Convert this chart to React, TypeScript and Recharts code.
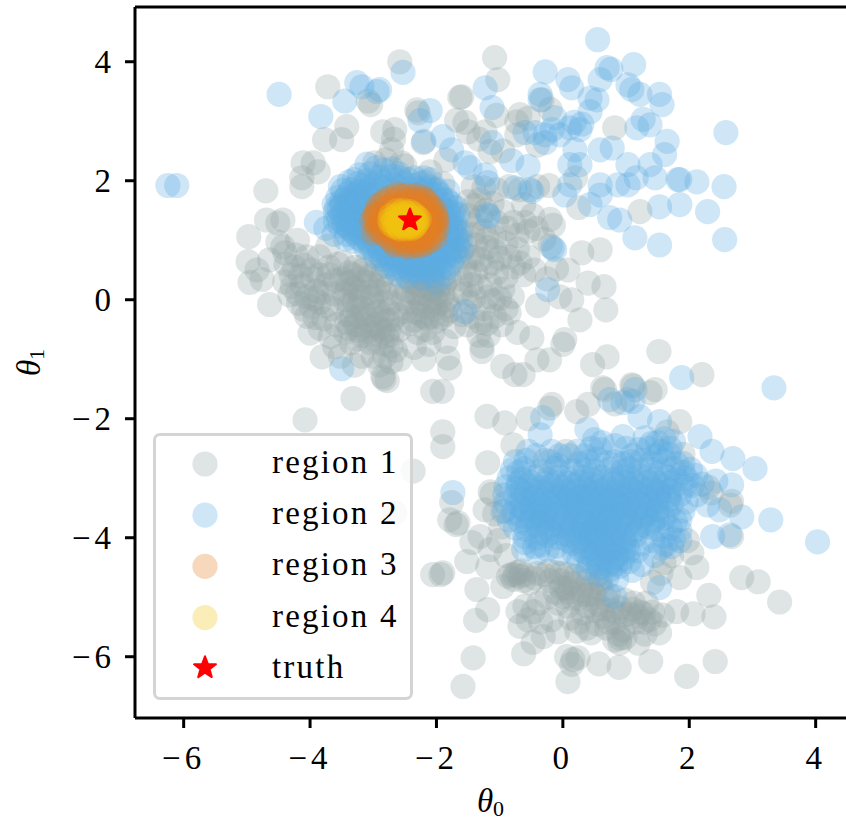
import React from "react";
import { ScatterChart, Scatter, XAxis, YAxis, ReferenceLine, Legend, Label } from "recharts";

type P = [number, number];

const xTicks = [-6, -4, -2, 0, 2, 4];
const yTicks = [-6, -4, -2, 0, 2, 4];
const legendLabels = ["region 1", "region 2", "region 3", "region 4", "truth"];
const colors = ["#95a5a6", "#5dade2", "#e67e22", "#f1c40f"];

const truth: P[] = [[-2.42, 1.34]];

const region1Upper: P[] = [
[-2.58,4],[-1.08,4.07],[-1.03,3.7],[-3.72,3.58],[-3.04,3.28],[-3.08,3.34],[-2.31,3.19],[-2.29,3.14],[-1.6,3.41],[-1.63,3.4],[-1.68,3.02],[-3.42,2.91],[-3.5,2.69],[-3.77,2.69],[-2.85,2.82],[-2.66,2.86],[-2.68,2.7],[-2.71,2.52],[-2.21,2.64],[-1.5,2.82],[-1.23,2.82],[-1.33,2.7],[-1.15,2.49],[-.68,3.11],[-.73,2.99],[-.73,2.77],[-.33,3.36],[-.55,3.05],[-4.11,2.3],[-3.95,2.3],[-3.87,2.15],[-4.13,1.9],[-4.13,2.05],[-4.7,1.83],[-4.69,1.34],[-4.43,1.34],[-4.51,1.29],[-4.97,1.06],[-4.51,.97],[-4.43,.89],[-4.4,.79],[-4.98,.64],[-4.84,.5],[-4.95,.29],[-4.76,.34],[-4.64,.67],[-4.64,-.08],[-4.4,.3],
[-4.25,.55],[-4.15,.4],[-4.05,.72],[-3.95,.35],[-3.9,.15],[-4.2,.1],[-4.05,.05],[-3.85,-.05],[-3.75,.25],[-3.62,.1],[-3.65,-.15],[-3.5,.35],[-3.45,0],[-3.4,-.25],[-3.3,.2],[-3.25,-.1],[-4.28,.22],[-4.12,.24],[-3.98,-.12],[-4.05,-.28],[-3.92,-.3],[-3.78,-.32],[-3.84,-.48],[-4,-.56],[-3.81,-.96],[-3.61,-.79],[-3.68,-.62],[-3.58,-.42],[-3.44,-.55],[-3.35,-.72],[-3.28,-.42],[-3.18,-.6],[-3.15,-.25],[-3.05,-.45],[-3.02,.05],[-2.95,-.7],[-2.92,-.2],[-2.85,-.55],[-2.8,.1],[-2.78,-.35],[-3.2,.05],[-3.12,.3],[-3,.25],[-2.88,.3],[-3.38,.45],[-3.28,.55],[-3.15,.5],[-3.42,.15],[-3.35,.3],[-2.72,-.05],[-2.7,-.6],[-2.62,-.25],[-2.65,-.85],[-2.58,-.5],[-2.82,-.95],[-3,-.95],[-3.18,-.95],[-3.3,-1.1],[-2.9,-1.1],[-2.72,-1.05],[-2.85,-1.29],[-2.83,-1.33],[-2.78,-1.36],[-2.58,-1.0],[-3.32,-1.66],[-3.52,-.95],
[-2.48,.15],[-2.45,-.05],[-2.38,.3],[-2.35,-.2],[-2.3,.1],[-2.25,.35],[-2.22,-.1],[-2.18,.2],[-2.15,-.32],[-2.1,.05],[-2.05,.3],[-2.02,-.15],[-1.98,.12],[-1.92,-.3],[-1.88,.25],[-1.85,0],[-1.8,.38],[-1.78,-.18],[-2.42,-.4],[-2.3,-.55],[-2.18,-.5],[-2.06,-.55],[-2.35,-.8],[-2.12,-.75],[-2.2,-1.0],[-2.06,-1.54],[-1.91,-1.54],[-1.79,-1.15],[-1.82,-.98],[-1.85,-.7],[-1.72,-.45],[-1.6,-.25],[-1.55,.1],[-1.62,.35],[-1.45,.25],[-1.4,.05],[-1.28,-.87],[-1.28,-.78],[-1.33,-.6],[-1.2,-.4],[-1.08,-.28],[-1.1,-.02],[-1.25,-.15],[-.95,-1.12],[-.76,-1.26],[-.63,-1.26],[-.49,-.64],[-.41,-1.01],[-.21,-1.01],[-.97,-.42],[-.9,-.15],[-.72,-.55],[-1.15,.25],[-.95,.18],[-.8,.05],
[-1.55,.55],[-1.38,.45],[-1.65,.72],[-1.48,.72],[-1.3,.68],[-1.12,.62],[-1.55,.9],[-1.38,.92],[-1.2,.88],[-1.08,.82],[-1.6,1.15],[-1.42,1.1],[-1.25,1.15],[-1.08,1.05],[-.9,.95],[-.72,.85],[-.55,.72],[-.45,.5],[-.62,.42],[-.78,.55],[-1.5,1.42],[-1.3,1.38],[-1.5,1.65],[-1.32,1.68],[-1.12,1.62],[-.95,1.48],[-.78,1.3],[-.55,1.15],[-1.42,1.9],[-1.25,1.88],[-1.05,1.85],[-.85,1.9],[-.68,1.85],[-.4,1.9],[-.22,1.92],[-.62,1.6],[-.48,1.42],[-.2,1.35],[-.15,1.25],[-.3,1.02],[-.2,.9],[-.1,.52],[-.25,.35],[-.05,.05],[-.4,-.1],
[.68,-.17],[.27,-.34],[.65,.22],[.14,0],[.08,.5],[.3,.79],[.59,.84],[.03,-.67],[.7,-.96],[.47,-1.09],[0,-.75],[1.52,-.87],[2.2,-1.26],[1.09,-1.43],[.66,-1.51],[1.46,-1.51],[.4,.28],[1.22,1.48],[.82,2.89],[.2,2.05],[.25,1.55],[-.4,2.6],[-.2,3.2],[-1.55,2.98],[-1.05,3.1],[-.95,2.5],[-2.55,2.3],[-2.1,2.15],[-1.85,2.35],[-1.9,1.95],[-2.2,1.98],[-2.8,2.35],[-2.5,2.25],[-2.98,2.3],[-4.2,1.0],[-3.72,.9],[-3.85,.72],[-3.7,.55],
];

const region1UpperDense: P[] = [
[-3.48,.62],[-3.4,.28],[-3.32,.42],[-3.22,.35],[-3.1,.62],[-3.05,.4],[-2.95,.5],[-2.85,.42],[-3.45,.1],[-3.38,-.1],[-3.3,-.02],[-3.22,.14],[-3.16,-.14],[-3.08,.12],[-3,-.08],[-2.92,.14],[-2.85,-.04],[-2.76,.22],[-3.42,-.38],[-3.34,-.3],[-3.24,-.28],[-3.1,-.34],[-3.02,-.26],[-2.96,-.42],[-2.86,-.3],[-2.76,-.18],[-3.38,-.48],[-3.22,-.52],[-3.1,-.54],[-3,-.58],[-2.9,-.48],[-2.76,-.52],[-2.7,-.34],[-3.25,-.66],[-3.05,-.72],[-2.85,-.74],[-2.72,-.78],[-2.78,-.62],
[-2.42,.32],[-2.36,.12],[-2.28,.24],[-2.26,-.04],[-2.2,.1],[-2.14,.28],[-2.12,-.12],[-2.08,.16],[-2.02,.02],[-1.96,.24],[-1.96,-.06],[-1.9,.08],[-1.86,.3],[-1.82,-.1],[-2.3,-.22],[-2.22,-.28],[-2.06,-.28],[-2,-.36],[-1.86,-.24],[-2.36,-.34],[-2.5,-.2],[-2.52,.02],[-2.56,.2],
[-4.38,.6],[-4.3,.42],[-4.22,.75],[-4.1,.58],[-3.98,.5],[-3.86,.42],[-4.32,.08],[-4.18,-.06],[-4.1,-.16],[-3.94,.02],[-3.82,.12],[-3.74,-.1],[-3.7,.42],[-3.6,.32],[-3.56,.6],
[-1.4,1.58],[-1.22,1.5],[-1.05,1.3],[-.88,1.2],[-.72,1.08],[-.6,1.3],[-.42,1.2],[-1.42,1.25],[-1.2,1.02],[-1,.7],[-.85,.72],[-.68,.62],[-1.42,.72],[-1.22,.55],[-1.05,.45],[-.9,.38],[-1.48,.42],[-1.32,.22],[-1.18,.05],[-1,.02],[-.85,-.22],[-1.62,.15],[-1.48,-.05],[-1.52,-.42],[-1.42,-.28],[-1.3,-.38],[-1.18,-.6],
];

const region1Lower: P[] = [
[-4.08,-2.02],[-2.37,-2.88],[-2.66,-3.58],[-2.06,-4.62],[-1.9,-2.22],[-1.9,-2.47],[-1.2,-1.96],[-.92,-2.07],[-1.19,-2.74],[-.79,-2.44],[-.17,-1.76],[-.21,-1.82],[.22,-1.88],[.4,-1.76],[.63,-1.48],[1.38,-1.56],[1.11,-1.45],[1.85,-2.05],[-1.15,-3.23],[-1.12,-3.27],[-1.76,-3.41],[-1.79,-3.7],[-1.66,-3.75],[-1.69,-3.78],[-1.23,-3.53],[-1.08,-3.6],[-1.44,-4.08],[-1.31,-3.98],[-1.15,-4.2],[-1.52,-4.4],[-1.19,-4.49],[-1.9,-4.59],[-1.93,-4.62],[-1.36,-4.87],[-1.19,-5.21],[-.95,-4.82],[-1.38,-5.39],[-1.42,-6.02],[-1.58,-6.5],[-.62,-5.95],[-.47,-5.76],[.08,-6.42],[.14,-6.13],[.16,-6.05],[.06,-6],[.24,-6.02],[.57,-6.12],[.89,-6.18],[1.39,-6.08],[1.96,-6.33],[2.41,-6.08],[2.39,-5.33],[2.06,-5.28],[2.31,-4.97],[2.12,-4.5],[2.83,-4.67],[3.09,-4.74],[3.43,-5.08],[1.85,-4.67],[1.8,-5.24],[2.67,-3.39],[2.65,-3.45],[2.67,-3.98],[2.04,-4.25],[1.97,-4.05],
[1.27,-5.27],[1.37,-5.38],[1.53,-5.6],[1.19,-5.77],[.9,-5.69],[.9,-5.77],[.69,-5.52],[.45,-5.6],[.22,-5.57],[-.31,-5.66],[-.68,-5.49],[-.71,-5.24],[-.47,-5.24],[-.86,-4.65],[-.68,-4.65],[-.52,-4.76],[-.76,-4.62],[-.1,-4.59],[.11,-4.76],[0,-4.99],[.58,-4.76],[.43,-5.04],[.32,-5.27],[.85,-5.27],[1.32,-5.1],
[-.82,-4.62],[-.72,-4.58],[-.6,-4.62],[-.45,-4.68],[-.3,-4.62],[-.2,-4.72],[-.05,-4.72],[.05,-4.85],[.2,-4.65],[.28,-4.88],[.4,-4.72],[.5,-4.95],[.62,-4.88],[.15,-5.02],[-.12,-4.92],[-.25,-5.0],[-.08,-5.1],[.08,-5.15],[.25,-5.02],[.38,-5.15],[.55,-5.12],[.7,-5.05],[.78,-5.22],[.98,-5.05],[1.12,-5.1],[1.05,-5.28],[.65,-5.32],[.72,-5.42],[.55,-5.45],[.38,-5.52],[.12,-5.35],[-.18,-5.38],[-.35,-5.42],[-.55,-5.38],[1.15,-5.42],[1.22,-5.25],[1.42,-5.25],[1.45,-5.45],[1.58,-5.3],[.95,-5.55],[.88,-5.62],[.82,-5.72],[.98,-5.68],[1.3,-5.62],[.25,-5.42],[-.08,-5.58],
[-.55,-2.0],[.05,-2.55],[-.28,-2.7],[.82,-1.75],[1.02,-1.68],[1.65,-2.22],[1.9,-2.6],[2.3,-3.15],[2.35,-3.25],[-.92,-3.55],[-.98,-3.82],[-1.02,-4.05],[-.9,-4.3],[1.6,-4.42],[1.72,-4.3],[1.55,-4.6],[1.42,-4.75],
[-.78,-4.7],[-.66,-4.56],[-.62,-4.72],[-.4,-4.6],[-.22,-4.56],[-.02,-4.6],[.08,-4.62],[.18,-4.78],[.34,-4.62],[.46,-4.82],[.3,-4.95],[.1,-4.92],[-.02,-4.84],[.42,-4.95],[.6,-4.7],[.72,-4.95],[.52,-5.22],[.62,-5.2],[.9,-5.18],[.98,-5.3],[.82,-5.42],[1.1,-5.2],[1.28,-5.42],[1.18,-5.32],[-.6,-5.15],[-.38,-5.1],
];

const region2Sparse: P[] = [
[-6.25,1.92],[-6.11,1.92],[-4.49,3.45],[-3.83,3.08],[-3.45,3.34],[-3.26,3.65],[-3.18,3.58],[-2.94,3.5],[-2.9,3.53],[-2.53,3.82],[-1.23,3.56],[-1.12,3.23],[-2.1,3.18],[-2.26,3.01],[-2.2,2.66],[-1.9,2.74],[-1.76,2.52],[-1.55,2.3],[-1.47,2.22],[-1.12,2.64],[-1.23,2.1],[-1.19,1.97],[-.81,2.34],[-.55,2.24],[-.76,1.88],[-.52,1.85],[-.49,1.82],[-1.19,1.43],[-1.17,1.4],[-1.55,-.2],[-3.5,-1.16],[-3.75,1.2],[-3.62,1.1],[-3.9,1.3],
[.55,4.37],[.7,3.9],[.76,3.87],[1.12,3.95],[-.28,3.83],[.08,3.7],[.14,3.56],[.59,3.7],[1.03,3.61],[1.22,3.45],[1.09,3.53],[1.53,3.45],[1.57,3.28],[.43,3.39],[.54,3.36],[.43,3.16],[-.13,3.06],[-.36,3.36],[-.36,3.45],[2.58,2.81],[1.65,2.66],[1.38,2.94],[1.17,2.89],[1.27,3.03],[.78,2.55],[.59,2.52],[.27,2.86],[.11,2.89],[.18,2.98],[.3,2.95],[-.05,2.77],[-.28,2.77],[-.6,2.81],[-.44,2.81],[-.28,2.64],[-.17,2.86],[.19,2.52],[.11,2.27],[.27,2.27],[1.61,2.44],[1.38,2.27],[1.03,2.27],[1.03,1.93],[.87,1.93],[.59,1.93],[.59,1.76],[.11,1.93],[.03,1.76],[.43,1.6],[-.13,.84],[-.24,.17],[-.16,.87],[.74,1.38],[.9,1.34],[1.14,1.04],[1.53,.92],[1.53,1.56],[1.85,1.6],[1.85,2.02],[1.82,2.02],[2.12,1.98],[2.55,1.9],[2.29,1.48],[2.56,1.01],[1.16,2.05],[1.46,2.05],
[1.88,-1.31],[3.34,-1.48],[.74,-1.68],[.95,-1.73],[1.14,-1.51],[1.11,-1.71],[1.22,-1.97],[1.53,-2.05],[2.17,-2.3],[2.36,-2.55],[2.69,-2.67],[3.04,-2.84],[2.67,-3.11],[2.83,-3.65],[3.29,-3.7],[4.03,-4.07],[2.37,-3.98],[2.64,-3.95],[2.48,-3.53],[2.29,-3.45],[-1.74,-3.24],[-.32,-1.98],[-.36,-2.27],[.38,-2.18],[.95,-2.3],[.82,-4.99],[1.53,-4.84],[2.42,-3.05],[2.2,-3.1],
];

const region2UpperCore: P[] = [
[-3.1,2.28],[-2.95,2.22],[-2.82,2.18],[-3.22,2.1],[-3.05,2.12],[-2.9,2.06],[-2.72,2.08],[-2.58,2.05],[-2.45,2.02],[-3.38,1.98],[-3.24,1.95],[-3.1,2],[-2.96,1.96],[-2.82,1.98],[-2.68,1.94],[-2.52,1.96],[-2.38,1.92],[-2.25,1.95],[-2.12,1.9],[-2,1.86],[-3.48,1.84],[-3.35,1.85],[-3.22,1.82],[-3.08,1.86],[-2.94,1.82],[-2.2,1.82],[-2.06,1.78],[-1.94,1.76],[-1.84,1.68],
[-3.56,1.72],[-3.44,1.7],[-3.32,1.74],[-3.2,1.7],[-3.08,1.72],[-1.98,1.66],[-1.86,1.6],[-3.62,1.6],[-3.5,1.58],[-3.38,1.62],[-3.26,1.58],[-3.14,1.6],[-3.02,1.56],[-1.92,1.54],[-1.8,1.48],[-3.6,1.48],[-3.46,1.46],[-3.34,1.5],[-3.22,1.46],[-3.1,1.48],[-1.88,1.42],[-1.76,1.38],[-1.7,1.3],[-3.55,1.36],[-3.42,1.34],[-3.3,1.38],[-3.18,1.34],[-3.06,1.36],[-1.84,1.28],[-1.72,1.22],[-1.64,1.14],[-3.52,1.24],[-3.4,1.22],[-3.28,1.26],[-3.16,1.22],[-3.04,1.24],[-1.82,1.14],[-1.7,1.08],[-3.42,1.1],[-3.3,1.12],[-3.18,1.1],[-3.06,1.12],[-2.94,1.06],[-1.86,1.02],[-1.74,.98],[-1.62,1.0],[-3.3,.98],[-3.18,1],[-3.06,.96],[-2.94,.94],[-2.82,.9],[-1.9,.9],[-1.78,.86],[-1.66,.88],[-3.12,.88],[-3,.84],[-2.88,.82],[-2.76,.78],[-2.64,.74],[-2.52,.72],[-2.4,.7],[-2.28,.68],[-2.16,.72],[-2.04,.76],[-1.92,.78],[-1.8,.74],[-1.7,.76],[-2.96,.72],[-2.84,.68],[-2.72,.66],[-2.6,.62],[-2.48,.6],[-2.36,.58],[-2.24,.56],[-2.12,.6],[-2,.64],[-1.88,.66],[-1.76,.62],[-2.78,.56],[-2.66,.52],[-2.54,.5],[-2.42,.48],[-2.3,.46],[-2.18,.48],[-2.06,.5],[-1.94,.52],[-1.82,.54],[-2.6,.42],[-2.46,.38],[-2.22,.36],[-2.06,.4],[-2,.28],[-1.88,.42],
[-3.52,1.9],[-3.3,2.02],[-3.58,1.55],[-3.6,1.32],[-3.44,1.02],[-2.7,2.2],[-2.35,2.05],[-2.1,2.02],[-2.2,2.05],[-1.82,1.82],[-1.7,1.55],[-1.66,1.44],[-1.6,.82],[-2.6,2.12],
[-2.8,1.7],[-2.3,1.7],[-2.95,1.5],[-2,1.5],[-2.95,1.15],[-2,1.15],[-2.75,.95],[-2.2,.9],
[-3.15,1.92],[-3.02,1.9],[-2.88,1.9],[-2.74,1.86],[-2.6,1.88],[-2.45,1.86],[-2.3,1.86],[-2.16,1.86],[-2.02,1.84],[-3.4,1.78],[-3.26,1.78],[-3.12,1.78],[-2.98,1.76],[-3.5,1.66],[-3.36,1.66],[-3.22,1.64],[-3.08,1.64],[-1.9,1.68],[-1.78,1.62],[-3.54,1.52],[-3.4,1.54],[-3.28,1.52],[-3.14,1.54],[-1.86,1.5],[-1.74,1.46],[-3.5,1.42],[-3.38,1.42],[-3.26,1.4],[-3.12,1.42],[-1.8,1.34],[-1.78,1.22],[-3.46,1.28],[-3.34,1.3],[-3.22,1.28],[-3.1,1.3],[-3.36,1.18],[-3.24,1.16],[-3.12,1.18],[-1.76,1.12],[-3.24,1.04],[-3.12,1.04],[-3,1.02],[-1.8,1.06],[-1.68,1.02],[-3.05,.9],[-2.92,.88],[-2.78,.82],[-2.66,.8],[-2.54,.78],[-2.42,.76],[-2.3,.76],[-2.18,.78],[-2.06,.82],[-1.94,.84],[-1.82,.8],[-1.72,.82],[-2.88,.74],[-2.76,.72],[-2.62,.68],[-2.5,.66],[-2.38,.64],[-2.26,.62],[-2.14,.66],[-2.02,.7],[-1.9,.72],[-2.7,.6],[-2.56,.56],[-2.44,.54],[-2.32,.52],[-2.2,.52],[-2.08,.56],[-1.96,.58],
];

const region2LowerCore: P[] = [
[.5,-2.35],[1.3,-2.32],[1.5,-2.4],[1.75,-2.38],[1.4,-2.42],[1.6,-2.34],[.62,-2.4],
[-.55,-2.55],[-.42,-2.62],[.45,-2.5],[.6,-2.52],[.35,-2.62],[1.2,-2.52],[1.35,-2.5],[1.55,-2.55],[1.1,-2.62],[1.48,-2.62],[1.68,-2.6],
[-.75,-2.72],[-.58,-2.7],[-.2,-2.72],[.4,-2.72],[.55,-2.68],[.7,-2.74],[1.08,-2.72],[1.25,-2.7],[1.4,-2.74],[1.6,-2.7],[1.8,-2.76],[.25,-2.76],[-.08,-2.78],
[-.8,-2.86],[-.62,-2.84],[-.35,-2.88],[-.12,-2.84],[.15,-2.87],[.35,-2.85],[.5,-2.88],[.75,-2.85],[.95,-2.88],[1.05,-2.84],[1.2,-2.87],[1.4,-2.85],[1.55,-2.88],[1.75,-2.84],[1.9,-2.9],
[-.85,-3],[-.65,-3.02],[-.45,-2.98],[-.25,-3.02],[-.05,-2.98],[.1,-3.02],[.3,-2.98],[.45,-3.02],[.6,-2.98],[.8,-3.02],[.95,-2.98],[1.1,-3.02],[1.3,-2.98],[1.45,-3.02],[1.65,-2.98],[1.8,-3.02],[1.95,-3],
[-.9,-3.14],[-.72,-3.16],[-.55,-3.12],[-.35,-3.16],[-.18,-3.12],[0,-3.16],[.18,-3.12],[.35,-3.16],[.52,-3.12],[.7,-3.16],[.88,-3.12],[1.05,-3.16],[1.22,-3.12],[1.4,-3.16],[1.58,-3.12],[1.75,-3.16],[1.92,-3.14],
[-.92,-3.28],[-.75,-3.3],[-.58,-3.26],[-.4,-3.3],[-.22,-3.26],[-.05,-3.3],[.12,-3.26],[.3,-3.3],[.48,-3.26],[.65,-3.3],[.82,-3.26],[1,-3.3],[1.18,-3.26],[1.35,-3.3],[1.52,-3.26],[1.68,-3.3],[1.85,-3.28],
[-.9,-3.42],[-.72,-3.44],[-.55,-3.4],[-.38,-3.44],[-.2,-3.4],[-.02,-3.44],[.15,-3.4],[.32,-3.44],[.5,-3.4],[.68,-3.44],[.85,-3.4],[1.02,-3.44],[1.2,-3.4],[1.38,-3.44],[1.55,-3.4],[1.72,-3.44],
[-.95,-3.56],[-.78,-3.58],[-.6,-3.54],[-.42,-3.58],[-.25,-3.54],[-.08,-3.58],[.1,-3.54],[.28,-3.58],[.45,-3.54],[.62,-3.58],[.8,-3.54],[.98,-3.58],[1.15,-3.54],[1.32,-3.58],[1.5,-3.54],[1.65,-3.58],
[-.85,-3.7],[-.68,-3.72],[-.5,-3.68],[-.32,-3.72],[-.15,-3.68],[.02,-3.72],[.2,-3.68],[.38,-3.72],[.55,-3.68],[.72,-3.72],[.9,-3.68],[1.08,-3.72],[1.25,-3.68],[1.42,-3.72],[1.6,-3.68],[1.78,-3.72],
[-.75,-3.84],[-.58,-3.86],[-.4,-3.82],[-.22,-3.86],[-.05,-3.82],[.12,-3.86],[.3,-3.82],[.48,-3.86],[.65,-3.82],[.82,-3.86],[1,-3.82],[1.18,-3.86],[1.35,-3.82],[1.5,-3.86],[1.7,-3.84],[1.85,-3.88],
[-.6,-3.98],[-.42,-4],[-.25,-3.96],[-.08,-4],[.1,-3.96],[.28,-4],[.45,-3.96],[.62,-4],[.8,-3.96],[.98,-4],[1.15,-3.96],[1.6,-3.98],[1.75,-4.02],
[-.35,-4.12],[-.1,-4.14],[.15,-4.1],[.32,-4.14],[.5,-4.1],[.68,-4.14],[.85,-4.1],[1.02,-4.14],[1.62,-4.12],
[.18,-4.26],[.35,-4.24],[.52,-4.28],[.7,-4.24],[.88,-4.28],[1.05,-4.22],[.25,-4.38],[.42,-4.4],[.6,-4.36],[.78,-4.4],[.95,-4.36],[.4,-4.52],[.58,-4.5],[.75,-4.54],[.9,-4.48],[.55,-4.62],[.7,-4.66],
[-.7,-2.9],[-.5,-3.5],[-.3,-3.62],[.2,-3.5],[.6,-3.5],[.4,-3.3],[.75,-3.35],[.92,-3.48],[.3,-3.7],[.55,-3.75],[.78,-3.62],[.1,-3.35],[.5,-4.0],[.42,-3.9],[.7,-3.9],
];

const region2LowerFill: P[] = [
[-.6,-4.08],[-.45,-4.15],[-.25,-4.2],[-.62,-4.2],[-.4,-4.25],[-.05,-4.26],[1.25,-4.1],[1.42,-4.05],[1.55,-4.18],[1.72,-4.15],[1.85,-4.05],[1.18,-4.22],[1.45,-4.3],[1.25,-4.45],[1.1,-4.55],[1.05,-4.4],[.85,-4.7],
[.1,-2.62],[.22,-2.55],[.82,-2.72],[.95,-2.76],[.82,-2.45],[1,-2.5],[-.18,-2.55],[-.05,-2.62],[1.7,-2.5],[1.9,-2.75],[2.02,-2.85],[2.1,-2.95],[2.05,-3.12],[2.12,-3.28],[1.95,-3.4],[1.9,-3.55],[1.85,-3.7],
[-.7,-3.08],[-.5,-3.07],[-.3,-3.09],[-.1,-3.07],[.08,-3.09],[.26,-3.07],[.44,-3.09],[.62,-3.07],[.8,-3.09],[.98,-3.07],[1.16,-3.09],[1.34,-3.07],[1.52,-3.09],[1.7,-3.07],[-.65,-3.22],[-.48,-3.21],[-.3,-3.23],[-.12,-3.21],[.06,-3.23],[.24,-3.21],[.42,-3.23],[.6,-3.21],[.78,-3.23],[.96,-3.21],[1.14,-3.23],[1.32,-3.21],[1.5,-3.23],[1.68,-3.21],[-.65,-3.36],[-.48,-3.35],[-.3,-3.37],[-.12,-3.35],[.06,-3.37],[.24,-3.35],[.42,-3.37],[.6,-3.35],[.78,-3.37],[.96,-3.35],[1.14,-3.37],[1.32,-3.35],[1.5,-3.37],[1.68,-3.35],[-.65,-3.5],[-.48,-3.49],[-.3,-3.51],[-.12,-3.49],[.06,-3.51],[.24,-3.49],[.42,-3.51],[.6,-3.49],[.78,-3.51],[.96,-3.49],[1.14,-3.51],[1.32,-3.49],[1.5,-3.51],[-.65,-3.64],[-.48,-3.63],[-.3,-3.65],[-.12,-3.63],[.06,-3.65],[.24,-3.63],[.42,-3.65],[.6,-3.63],[.78,-3.65],[.96,-3.63],[1.14,-3.65],[1.32,-3.63],[1.5,-3.65],[-.55,-3.78],[-.38,-3.77],[-.2,-3.79],[-.02,-3.77],[.16,-3.79],[.34,-3.77],[.52,-3.79],[.7,-3.77],[.88,-3.79],[1.06,-3.77],[1.24,-3.79],[1.42,-3.77],[-.35,-3.92],[-.18,-3.91],[0,-3.93],[.18,-3.91],[.36,-3.93],[.54,-3.91],[.72,-3.93],[.9,-3.91],[1.08,-3.93],[.08,-4.05],[.26,-4.06],[.44,-4.04],[.62,-4.07],[.8,-4.05],[.96,-4.07],[.28,-4.2],[.46,-4.18],[.62,-4.2],[.8,-4.18],[.96,-4.2],[.48,-4.32],[.66,-4.34],[.84,-4.32],[.55,-4.44],[.72,-4.46],[.84,-4.44],
];

const region3: P[] = [
[-2.72,1.72],[-2.55,1.74],[-2.38,1.7],[-2.22,1.72],[-2.86,1.62],[-2.7,1.6],[-2.54,1.62],[-2.38,1.58],[-2.22,1.62],[-2.08,1.56],[-2.95,1.48],[-2.8,1.5],[-2.64,1.46],[-2.48,1.5],[-2.32,1.46],[-2.16,1.48],[-2.02,1.42],[-2.97,1.36],[-2.82,1.34],[-2.66,1.38],[-2.5,1.34],[-2.34,1.38],[-2.18,1.34],[-2.02,1.3],[-1.98,1.2],[-2.92,1.24],[-2.76,1.22],[-2.6,1.26],[-2.44,1.22],[-2.28,1.26],[-2.12,1.22],[-2.86,1.12],[-2.7,1.1],[-2.54,1.14],[-2.38,1.1],[-2.22,1.14],[-2.08,1.08],[-2.72,1],[-2.56,1.02],[-2.4,.98],[-2.24,1],[-2.12,.98],[-2.5,.9],[-2.32,.92],[-2.62,1.78],[-2.32,1.76],[-3.02,1.32],[-2,1.32],[-3,1.12],[-2.02,1.04],
[-2.8,1.68],[-2.64,1.68],[-2.46,1.68],[-2.3,1.66],[-2.14,1.64],[-2.92,1.58],[-2.78,1.56],[-2.62,1.56],[-2.12,1.54],[-2.02,1.5],[-2.88,1.42],[-2.74,1.44],[-2.1,1.4],[-1.98,1.36],[-2.9,1.3],[-2.74,1.28],[-2.1,1.28],[-2.04,1.16],[-2.84,1.18],[-2.68,1.16],[-2.14,1.16],[-2.94,1.18],[-2.78,1.06],[-2.62,1.08],[-2.46,1.06],[-2.3,1.06],[-2.16,1.06],[-2.64,.96],[-2.48,.96],[-2.32,.98],[-2.18,.94],[-2.42,.88],[-2.26,.9],[-2.94,1.42],[-2.98,1.42],[-2.46,1.76],[-2.18,1.68],[-2.66,.92],
];

const region4: P[] = [
[-2.62,1.5],[-2.52,1.5],[-2.42,1.48],[-2.72,1.42],[-2.62,1.42],[-2.52,1.42],[-2.42,1.4],[-2.34,1.42],[-2.74,1.34],[-2.64,1.33],[-2.54,1.34],[-2.44,1.33],[-2.34,1.34],[-2.27,1.35],[-2.72,1.27],[-2.62,1.25],[-2.52,1.26],[-2.42,1.25],[-2.32,1.27],[-2.58,1.19],[-2.48,1.19],[-2.38,1.2],
[-2.58,1.46],[-2.48,1.46],[-2.38,1.45],[-2.68,1.38],[-2.58,1.38],[-2.48,1.38],[-2.38,1.37],[-2.3,1.38],[-2.68,1.3],[-2.58,1.3],[-2.48,1.3],[-2.38,1.29],[-2.3,1.31],[-2.6,1.22],[-2.5,1.22],[-2.4,1.22],[-2.66,1.22],[-2.34,1.23],
];

const toObj = (a: P[]) => a.map(([x, y]) => ({ x, y }));
const gray = toObj([...region1Upper, ...region1UpperDense, ...region1Lower]);
const blue = toObj([...region2Sparse, ...region2UpperCore, ...region2LowerCore, ...region2LowerFill]);

const FONT = "'Liberation Serif', serif";

const starPath = (r: number) => {
  let d = "";
  for (let i = 0; i < 10; i++) {
    const rad = i % 2 === 0 ? r : r * 0.42;
    const a = -Math.PI / 2 + (i * Math.PI) / 5;
    d += (i === 0 ? "M" : "L") + (rad * Math.cos(a)).toFixed(2) + "," + (rad * Math.sin(a)).toFixed(2);
  }
  return d + "Z";
};

const Dot = (p: any) => (
  <circle cx={p.cx} cy={p.cy} r={12.6} fill={p.fill} fillOpacity={0.3} stroke="none" />
);
const Star = (p: any) => (
  <path transform={`translate(${p.cx},${p.cy})`} d={starPath(11.5)} fill="#ff0000" stroke="#ff0000" strokeWidth={2} strokeLinejoin="round" />
);

const LegendBox = () => (
  <div style={{ width: 260, height: 267, boxSizing: "border-box", background: "rgba(255,255,255,0.8)", border: "3px solid #d4d4d4", borderRadius: 7 }}>
    <svg width={254} height={261} style={{ display: "block" }}>
      {legendLabels.map((t, i) => {
        const cy = 28 + i * 51.2;
        return (
          <g key={t}>
            {i < 4 ? (
              <circle cx={49} cy={cy} r={12.6} fill={colors[i]} fillOpacity={0.3} />
            ) : (
              <path transform={`translate(49,${cy - 1})`} d={starPath(11.5)} fill="#ff0000" stroke="#ff0000" strokeWidth={2} strokeLinejoin="round" />
            )}
            <text x={116} y={cy + 9} fontFamily={FONT} fontSize={33} letterSpacing={2.2} fill="#000">{t}</text>
          </g>
        );
      })}
    </svg>
  </div>
);

const fmt = (v: number) => (v < 0 ? "\u2212" + Math.abs(v) : String(v));
const tickStyle = { fontFamily: FONT, fontSize: 33, fill: "#000", letterSpacing: 4 };

const XTitle = (p: any) => {
  const { x, width, y } = p.viewBox;
  return (
    <text x={x + width / 2} y={y + 94} textAnchor="middle" fontFamily={FONT} fontSize={33} fill="#000">
      <tspan fontStyle="italic">θ</tspan>
      <tspan fontSize={22} dy={4}>0</tspan>
    </text>
  );
};
const YTitle = (p: any) => {
  const { y, height } = p.viewBox;
  const cx = 40;
  const cy = y + height / 2;
  return (
    <text transform={`rotate(-90 ${cx} ${cy})`} x={cx} y={cy} textAnchor="middle" fontFamily={FONT} fontSize={33} fill="#000">
      <tspan fontStyle="italic">θ</tspan>
      <tspan fontSize={22} dy={4}>1</tspan>
    </text>
  );
};

export default function App() {
  const xDomain: [number, number] = [-6.77, 4.48];
  const yDomain: [number, number] = [-7.03, 4.92];
  return (
    <div style={{ position: "absolute", left: 0, top: 0, width: 846, height: 824 }}>
      <ScatterChart width={846} height={824} margin={{ top: 7, right: 0, bottom: 6, left: 0 }}>
        <XAxis
          type="number"
          dataKey="x"
          domain={xDomain}
          ticks={xTicks}
          interval={0}
          height={100}
          tickFormatter={fmt}
          tick={tickStyle}
          tickLine={{ stroke: "#000", strokeWidth: 3 }}
          axisLine={{ stroke: "#000", strokeWidth: 3 }}
          tickSize={10}
          tickMargin={18}
        >
          <Label content={XTitle} />
        </XAxis>
        <YAxis
          type="number"
          dataKey="y"
          domain={yDomain}
          ticks={yTicks}
          interval={0}
          width={135}
          tickFormatter={fmt}
          tick={tickStyle}
          tickLine={{ stroke: "#000", strokeWidth: 3 }}
          axisLine={{ stroke: "#000", strokeWidth: 3 }}
          tickSize={10}
          tickMargin={10}
        >
          <Label content={YTitle} />
        </YAxis>
        <ReferenceLine y={4.92} stroke="#000" strokeWidth={3} />
        <Scatter name="region 1" data={gray} fill={colors[0]} shape={Dot} isAnimationActive={false} />
        <Scatter name="region 2" data={blue} fill={colors[1]} shape={Dot} isAnimationActive={false} />
        <Scatter name="region 3" data={toObj(region3)} fill={colors[2]} shape={Dot} isAnimationActive={false} />
        <Scatter name="region 4" data={toObj(region4)} fill={colors[3]} shape={Dot} isAnimationActive={false} />
        <Scatter name="truth" data={toObj(truth)} fill="#ff0000" shape={Star} isAnimationActive={false} />
        <Legend
          layout="vertical"
          align="center"
          verticalAlign="middle"
          content={LegendBox}
          wrapperStyle={{ left: 153, top: 433, width: 260, height: 267, bottom: "auto", right: "auto", margin: 0 }}
        />
      </ScatterChart>
    </div>
  );
}
